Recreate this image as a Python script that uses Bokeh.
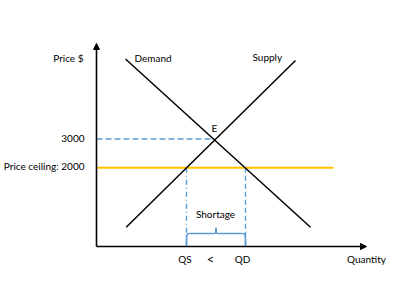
from bokeh.plotting import figure
from bokeh.models import Range1d, Arrow, NormalHead, Label
from bokeh.embed import file_html
from bokeh.resources import INLINE

# ---- data (quantity units, price in $) ----
demand_q = [2.9, 21.4]
demand_p = [5770, -60]
supply_q = [2.97, 19.9]
supply_p = [-60, 5720]
eq_q, eq_p = 11.8, 3000
ceiling_p = 2000
ceiling_end_q = 23.7
qs, qd = 9.0, 14.9
axis_origin_p = -728
axis_top_p = 6310
axis_right_q = 27.0
price_labels = ["3000", "Price ceiling: 2000"]
price_label_levels = [3000, 2060]

BLUE = "#5B9BD5"
GOLD = "#FFC000"
FONT = "Lato"
FS = "10px"

p = figure(width=400, height=300, output_backend="svg", toolbar_location=None,
           x_range=Range1d(-9.6, 30.4), y_range=Range1d(-2600, 7800),
           min_border=0, min_border_left=0, min_border_right=0,
           min_border_top=0, min_border_bottom=0)
p.axis.visible = False
p.grid.visible = False
p.outline_line_color = None
p.background_fill_color = "white"
p.border_fill_color = "white"

# axes with arrows
p.add_layout(Arrow(end=NormalHead(size=6, fill_color="black", line_color="black"),
                   x_start=0, y_start=axis_origin_p, x_end=0, y_end=axis_top_p,
                   line_width=1.6, line_color="black"))
p.add_layout(Arrow(end=NormalHead(size=6, fill_color="black", line_color="black"),
                   x_start=0, y_start=axis_origin_p, x_end=axis_right_q, y_end=axis_origin_p,
                   line_width=1.6, line_color="black"))

# dashed guides
p.line([0, eq_q], [eq_p, eq_p], line_color=BLUE, line_width=1.4, line_dash="6 3")
p.line([qs, qs], [ceiling_p, axis_origin_p], line_color=BLUE, line_width=1.4, line_dash="5 3 1 3")
p.line([qd, qd], [ceiling_p, axis_origin_p], line_color=BLUE, line_width=1.4, line_dash="5 3")

# price ceiling
p.line([0, ceiling_end_q], [ceiling_p, ceiling_p], line_color=GOLD, line_width=2)

# demand and supply
p.line(demand_q, demand_p, line_color="black", line_width=1.5)
p.line(supply_q, supply_p, line_color="black", line_width=1.5)

# brace between QS and QD
mid = (qs + qd) / 2
bh = 450   # brace height above axis (price units)
r = 0.3
base = axis_origin_p
top = base + bh
p.bezier(x0=[qs, mid, mid, qd], y0=[base, top + 200, top + 200, base],
         x1=[qs + r, mid - r, mid + r, qd - r], y1=[top, top, top, top],
         cx0=[qs, mid, mid, qd], cy0=[top, top, top, top],
         cx1=[qs, mid, mid, qd], cy1=[top, top, top, top],
         line_color=BLUE, line_width=1.6)
p.line([qs + r, mid - r], [top, top], line_color=BLUE, line_width=1.6)
p.line([mid + r, qd - r], [top, top], line_color=BLUE, line_width=1.6)

def lab(x, y, t, align="left", size=FS):
    p.add_layout(Label(x=x, y=y, text=t, text_font=FONT, text_font_size=size,
                       text_align=align, text_baseline="middle", text_color="black"))

lab(-1.3, 5800, "Price $", "right")
lab(3.8, 5810, "Demand")
lab(15.6, 5830, "Supply")
lab(eq_q, 3390, "E", "center")
for t, lv in zip(price_labels, price_label_levels):
    lab(-1.2, lv, t, "right")
lab(11.9, 416, "Shortage", "center")
lab(8.85, -1155, "QS", "center")
lab(11.4, -1155, "<", "center", "13px")
lab(14.6, -1155, "QD", "center")
lab(27.0, -1170, "Quantity", "center")

open("out.html", "w").write(file_html(p, INLINE))
